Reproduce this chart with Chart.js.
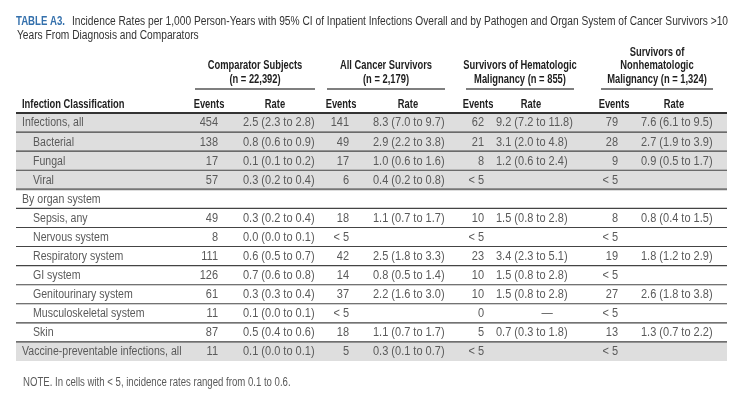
<!DOCTYPE html>
<html>
<head>
<meta charset="utf-8">
<script src="https://cdn.jsdelivr.net/npm/chart.js@4.4.1/dist/chart.umd.min.js"></script>
<style>
  html, body { margin: 0; padding: 0; background: #fff; }
  canvas { display: block; }
</style>
</head>
<body>
<canvas id="myChart" width="743" height="408"></canvas>
<script>

// table rows
let rowLabels = ['Infections, all', 'Bacterial', 'Fungal', 'Viral', 'By organ system', 'Sepsis, any',
  'Nervous system', 'Respiratory system', 'GI system', 'Genitourinary system',
  'Musculoskeletal system', 'Skin', 'Vaccine-preventable infections, all'];
let rowIndent = [0, 1, 1, 1, 0, 1, 1, 1, 1, 1, 1, 1, 0];
let shadedRows = [1, 1, 1, 1, 0, 0, 0, 0, 0, 0, 0, 0, 1];

// column groups
let groupTitles = [
  ['Comparator Subjects', '(n = 22,392)'],
  ['All Cancer Survivors', '(n = 2,179)'],
  ['Survivors of Hematologic', 'Malignancy (n = 855)'],
  ['Survivors of', 'Nonhematologic', 'Malignancy (n = 1,324)']
];

let comparatorEvents = ['454', '138', '17', '57', '', '49', '8', '111', '126', '61', '11', '87', '11'];
let comparatorRates = ['2.5 (2.3 to 2.8)', '0.8 (0.6 to 0.9)', '0.1 (0.1 to 0.2)', '0.3 (0.2 to 0.4)', '',
  '0.3 (0.2 to 0.4)', '0.0 (0.0 to 0.1)', '0.6 (0.5 to 0.7)', '0.7 (0.6 to 0.8)', '0.3 (0.3 to 0.4)',
  '0.1 (0.0 to 0.1)', '0.5 (0.4 to 0.6)', '0.1 (0.0 to 0.1)'];

let allCancerEvents = ['141', '49', '17', '6', '', '18', '< 5', '42', '14', '37', '< 5', '18', '5'];
let allCancerRates = ['8.3 (7.0 to 9.7)', '2.9 (2.2 to 3.8)', '1.0 (0.6 to 1.6)', '0.4 (0.2 to 0.8)', '',
  '1.1 (0.7 to 1.7)', '', '2.5 (1.8 to 3.3)', '0.8 (0.5 to 1.4)', '2.2 (1.6 to 3.0)',
  '', '1.1 (0.7 to 1.7)', '0.3 (0.1 to 0.7)'];

let hemaEvents = ['62', '21', '8', '< 5', '', '10', '< 5', '23', '10', '10', '0', '5', '< 5'];
let hemaRates = ['9.2 (7.2 to 11.8)', '3.1 (2.0 to 4.8)', '1.2 (0.6 to 2.4)', '', '',
  '1.5 (0.8 to 2.8)', '', '3.4 (2.3 to 5.1)', '1.5 (0.8 to 2.8)', '1.5 (0.8 to 2.8)',
  '—', '0.7 (0.3 to 1.8)', ''];

let nonhemaEvents = ['79', '28', '9', '< 5', '', '8', '< 5', '19', '< 5', '27', '< 5', '13', '< 5'];
let nonhemaRates = ['7.6 (6.1 to 9.5)', '2.7 (1.9 to 3.9)', '0.9 (0.5 to 1.7)', '', '',
  '0.8 (0.4 to 1.5)', '', '1.8 (1.2 to 2.9)', '', '2.6 (1.8 to 3.8)',
  '', '1.3 (0.7 to 2.2)', ''];

let titleLabel = 'TABLE A3.';
let titleLine1 = 'Incidence Rates per 1,000 Person-Years with 95% CI of Inpatient Infections Overall and by Pathogen and Organ System of Cancer Survivors >10';
let titleLine2 = 'Years From Diagnosis and Comparators';
let noteText = 'NOTE. In cells with < 5, incidence rates ranged from 0.1 to 0.6.';


// layout, in table units (0 = left edge of table)
let tableWidth = 711;
let eventsRight = [202, 333, 468, 602];
let eventsHead = [193, 325, 462, 598];
let rateLeft = [227, 357, 480, 625];
let rateHead = [259, 392, 515, 658];
let groupCenter = [239, 370, 504, 641];
let groupLine = [[179, 299], [311, 429], [450, 558], [585, 697]];

let bodyFont = '12.5px "Liberation Sans", Arial, sans-serif';
let boldFont = 'bold 12px "Liberation Sans", Arial, sans-serif';
let bodyColor = '#5a5a5a';
let headColor = '#1e1e1e';


function txt(c, s, x, y, font, color, align, sq) {
    c.save();
    c.font = font;
    c.fillStyle = color;
    c.textBaseline = 'middle';
    c.textAlign = 'left';
    let w = c.measureText(s).width * sq;
    let left = align === 'left' ? x : (align === 'right' ? x - w : x - w / 2);
    c.translate(left, y);
    c.scale(sq, 1);
    c.fillText(s, 0, 0);
    c.restore();
}

function hline(c, x1, x2, y, width, color) {
    c.save();
    c.strokeStyle = color;
    c.lineWidth = width;
    c.beginPath();
    c.moveTo(x1, y);
    c.lineTo(x2, y);
    c.stroke();
    c.restore();
}

let tablePlugin = {
    id: 'tablePlugin',
    afterDatasetsDraw(chart) {
        let c = chart.ctx;
        let xs = chart.scales.x;
        let ys = chart.scales.y;
        let top = chart.chartArea.top;
        let px = v => xs.getPixelForValue(v);
        let left = px(0), right = px(tableWidth);

        // title
        txt(c, titleLabel, left, 22, 'bold 12.5px "Liberation Sans", Arial, sans-serif', '#3470ac', 'left', 0.77);
        c.font = '12.5px "Liberation Sans", Arial, sans-serif';
        let sq = 656 / c.measureText(titleLine1).width;
        txt(c, titleLine1, 72, 22, c.font, '#333', 'left', sq);
        txt(c, titleLine2, left + 1, 36, '12.5px "Liberation Sans", Arial, sans-serif', '#333', 'left', sq);

        // group headers
        groupTitles.forEach((lines, g) => {
            let y0 = top - 47 - (lines.length - 2) * 13.5;
            lines.forEach((s, k) => {
                txt(c, s, px(groupCenter[g]), y0 + k * 13.5, boldFont, headColor, 'center', 0.78);
            });
            hline(c, px(groupLine[g][0]), px(groupLine[g][1]), top - 24, 1.5, '#555');
            txt(c, 'Events', px(eventsHead[g]), top - 8.5, boldFont, headColor, 'center', 0.78);
            txt(c, 'Rate', px(rateHead[g]), top - 8.5, boldFont, headColor, 'center', 0.78);
        });
        txt(c, 'Infection Classification', left + 6, top - 8.5, boldFont, headColor, 'left', 0.78);
        hline(c, left, right, top, 2, '#333');

        // row separators
        for (let i = 0; i < rowLabels.length - 1; i++) {
            let y = (ys.getPixelForValue(i) + ys.getPixelForValue(i + 1)) / 2;
            if (i === 3) hline(c, left, right, y, 2, '#777');
            else hline(c, left, right, y, 1.1, '#444');
        }

        // cells
        let events = [comparatorEvents, allCancerEvents, hemaEvents, nonhemaEvents];
        let rates = [comparatorRates, allCancerRates, hemaRates, nonhemaRates];
        rowLabels.forEach((label, i) => {
            let y = ys.getPixelForValue(i) + 0.5;
            txt(c, label, left + 6 + rowIndent[i] * 11, y, bodyFont, bodyColor, 'left', 0.845);
            for (let g = 0; g < 4; g++) {
                if (events[g][i]) txt(c, events[g][i], px(eventsRight[g]), y, bodyFont, bodyColor, 'right', 0.88);
                let r = rates[g][i];
                if (r === '—') txt(c, r, px(rateLeft[g] + 51), y, bodyFont, bodyColor, 'center', 0.9);
                else if (r) txt(c, r, px(rateLeft[g]), y, bodyFont, bodyColor, 'left', 0.88);
            }
        });

        // note
        let bottom = chart.chartArea.bottom;
        txt(c, noteText, left + 7, bottom + 22, '12px "Liberation Sans", Arial, sans-serif', bodyColor, 'left', 0.8);
    }
};

var ctx = document.getElementById('myChart').getContext('2d');

myChart = new Chart(ctx, {
    type: 'bar',
    data: {
        labels: rowLabels,
        datasets: [{
            label: 'shade',
            data: shadedRows.map(s => s ? tableWidth : null),
            backgroundColor: '#dedede',
            borderWidth: 0,
            barPercentage: 1,
            categoryPercentage: 1
        }]
    },
    options: {
        indexAxis: 'y',
        responsive: false,
        animation: false,
        devicePixelRatio: 1,
        layout: {
            padding: { left: 16, right: 16, top: 113, bottom: 47 }
        },
        plugins: {
            legend: { display: false },
            tooltip: { enabled: false }
        },
        scales: {
            x: { type: 'linear', min: 0, max: tableWidth, display: false },
            y: { type: 'category', display: false, offset: true }
        }
    },
    plugins: [tablePlugin]
});
</script>
</body>
</html>
